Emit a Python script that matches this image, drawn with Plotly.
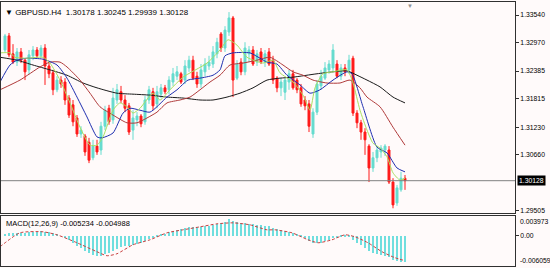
import plotly.graph_objects as go

# ---------------- data ----------------
bars = list(range(101))

opens = [1.3282, 1.3311, 1.3274, 1.3257, 1.3278, 1.3261, 1.3241, 1.3270, 1.3282, 1.3270,
         1.3286, 1.3249, 1.3235, 1.3200, 1.3220, 1.3216, 1.3183, 1.3169, 1.3142, 1.3109,
         1.3105, 1.3092, 1.3060, 1.3084, 1.3076, 1.3125, 1.3162, 1.3138, 1.3179, 1.3196,
         1.3179, 1.3167, 1.3117, 1.3138, 1.3146, 1.3134, 1.3179, 1.3196, 1.3171, 1.3191,
         1.3204, 1.3200, 1.3216, 1.3228, 1.3233, 1.3220, 1.3245, 1.3261, 1.3228, 1.3212,
         1.3237, 1.3249, 1.3253, 1.3274, 1.3315, 1.3286, 1.3319, 1.3348, 1.3224, 1.3257,
         1.3237, 1.3274, 1.3282, 1.3257, 1.3278, 1.3257, 1.3278, 1.3261, 1.3224, 1.3204,
         1.3195, 1.3216, 1.3233, 1.3220, 1.3204, 1.3179, 1.3171, 1.3109, 1.3154, 1.3208,
         1.3224, 1.3241, 1.3245, 1.3253, 1.3228, 1.3245, 1.3241, 1.3265, 1.3152, 1.3132,
         1.3113, 1.3084, 1.3039, 1.3060, 1.3072, 1.3076, 1.3076, 1.3010, 1.2967, 1.2994,
         1.30178]
closes = [1.3311, 1.3272, 1.3257, 1.3278, 1.3261, 1.3237, 1.3272, 1.3282, 1.3270, 1.3286,
          1.3249, 1.3233, 1.3200, 1.3220, 1.3212, 1.3179, 1.3148, 1.3134, 1.3109, 1.3117,
          1.3072, 1.3055, 1.3084, 1.3072, 1.3125, 1.3158, 1.3134, 1.3183, 1.3200, 1.3179,
          1.3162, 1.3113, 1.3142, 1.3146, 1.3130, 1.3179, 1.3200, 1.3167, 1.3196, 1.3204,
          1.3196, 1.3220, 1.3233, 1.3237, 1.3216, 1.3249, 1.3261, 1.3224, 1.3212, 1.3241,
          1.3253, 1.3257, 1.3278, 1.3298, 1.3286, 1.3323, 1.3348, 1.3220, 1.3253, 1.3237,
          1.3286, 1.3282, 1.3253, 1.3274, 1.3257, 1.3274, 1.3253, 1.3220, 1.3204, 1.3216,
          1.3220, 1.3233, 1.3204, 1.3200, 1.3171, 1.3167, 1.3125, 1.3154, 1.3212, 1.3228,
          1.3245, 1.3253, 1.3282, 1.3228, 1.3245, 1.3237, 1.3261, 1.3152, 1.3132, 1.3113,
          1.3097, 1.3039, 1.3060, 1.3076, 1.3080, 1.3084, 1.3010, 1.2963, 1.2998, 1.3018,
          1.30128]
highs = [1.3315, 1.3317, 1.3294, 1.3286, 1.3286, 1.3265, 1.3282, 1.3290, 1.3288, 1.3292,
         1.3294, 1.3257, 1.3241, 1.3228, 1.3228, 1.3224, 1.3189, 1.3179, 1.3148, 1.3125,
         1.3109, 1.3101, 1.3097, 1.3097, 1.3134, 1.3167, 1.3169, 1.3204, 1.3212, 1.3208,
         1.3189, 1.3173, 1.3158, 1.3154, 1.3150, 1.3187, 1.3208, 1.3204, 1.3208, 1.3212,
         1.3210, 1.3228, 1.3245, 1.3249, 1.3237, 1.3261, 1.3270, 1.3270, 1.3237, 1.3253,
         1.3265, 1.3270, 1.3290, 1.3307, 1.3319, 1.3331, 1.3360, 1.3352, 1.3261, 1.3265,
         1.3298, 1.3290, 1.3290, 1.3282, 1.3286, 1.3282, 1.3286, 1.3270, 1.3228, 1.3224,
         1.3224, 1.3241, 1.3241, 1.3224, 1.3212, 1.3187, 1.3179, 1.3162, 1.3220, 1.3241,
         1.3257, 1.3261, 1.3294, 1.3261, 1.3253, 1.3253, 1.3272, 1.3270, 1.3158, 1.3138,
         1.3121, 1.3088, 1.3072, 1.3084, 1.3086, 1.3088, 1.3084, 1.3018, 1.3004, 1.3031,
         1.30245]
lows = [1.3278, 1.3267, 1.3253, 1.3249, 1.3255, 1.3220, 1.3232, 1.3261, 1.3265, 1.3265,
        1.3210, 1.3224, 1.3189, 1.3195, 1.3204, 1.3169, 1.3142, 1.3125, 1.3103, 1.3101,
        1.3064, 1.3049, 1.3055, 1.3066, 1.3066, 1.3117, 1.3128, 1.3130, 1.3171, 1.3173,
        1.3154, 1.3107, 1.3097, 1.3125, 1.3123, 1.3128, 1.3171, 1.3158, 1.3162, 1.3183,
        1.3191, 1.3191, 1.3208, 1.3220, 1.3212, 1.3212, 1.3237, 1.3220, 1.3204, 1.3204,
        1.3228, 1.3241, 1.3245, 1.3265, 1.3278, 1.3278, 1.3311, 1.3185, 1.3220, 1.3230,
        1.3230, 1.3257, 1.3249, 1.3249, 1.3253, 1.3247, 1.3249, 1.3212, 1.3195, 1.3187,
        1.3179, 1.3200, 1.3200, 1.3193, 1.3165, 1.3158, 1.3113, 1.3101, 1.3148, 1.3200,
        1.3220, 1.3233, 1.3237, 1.3224, 1.3220, 1.3228, 1.3233, 1.3146, 1.3121, 1.3097,
        1.3066, 1.3010, 1.3031, 1.3051, 1.3060, 1.3064, 1.3006, 1.2956, 1.2961, 1.2990,
        1.29939]

# moving averages (bar position, price)
ma_fast_x = [-1.25, 1.25, 2.5, 5.5, 9.5, 11.25, 13.75, 16.25, 18.75, 21.25, 23, 24.5, 27, 28.75,
             30.5, 32, 33.75, 37, 38.75, 41.25, 44.5, 50.5, 53.75, 55.75, 58, 60.5, 64.5, 67,
             68.75, 72, 74.5, 76.25, 77.5, 79.5, 82, 85.5, 87, 88.75, 90.5, 92, 93.75, 95.5,
             97, 98.75, 100]
ma_fast_y = [1.3276, 1.3276, 1.3267, 1.3265, 1.3267, 1.3255, 1.3220, 1.3173, 1.3123, 1.3086,
             1.3086, 1.3103, 1.3158, 1.3173, 1.3165, 1.3152, 1.3162, 1.3193, 1.3179, 1.3200,
             1.3226, 1.3255, 1.3282, 1.3303, 1.3292, 1.3267, 1.3255, 1.3261, 1.3235, 1.3216,
             1.3189, 1.3158, 1.3204, 1.3233, 1.3237, 1.3241, 1.3214, 1.3158, 1.3117, 1.3090,
             1.3080, 1.3062, 1.3029, 1.3014, 1.3018]

ma_blue_x = [-1.25, 1.25, 3, 5.5, 9.5, 13, 15.5, 18, 20.5, 23, 24.25, 27, 29.5, 31.25, 33.75,
             36.25, 40.5, 43, 45.75, 48.75, 52, 53.75, 55, 57, 61.25, 63.75, 65.5, 68, 70.5,
             73.75, 76.25, 78.75, 82, 85.5, 86.75, 89.5, 93, 95.5, 98, 100]
ma_blue_y = [1.3216, 1.3251, 1.3261, 1.3265, 1.3263, 1.3251, 1.3224, 1.3185, 1.3144, 1.3103,
             1.3101, 1.3111, 1.3152, 1.3162, 1.3158, 1.3154, 1.3185, 1.3200, 1.3220, 1.3224,
             1.3230, 1.3241, 1.3270, 1.3276, 1.3276, 1.3265, 1.3257, 1.3253, 1.3230, 1.3210,
             1.3193, 1.3200, 1.3220, 1.3237, 1.3233, 1.3165, 1.3082, 1.3070, 1.3039, 1.3031]

ma_brown_x = [-1.25, 3.75, 8.75, 11.25, 13.75, 15.5, 18.75, 21.25, 23.75, 27, 30.5, 33, 35.5,
              38, 40.5, 43.75, 46.25, 48.75, 51.25, 53.75, 56.25, 59.5, 63, 66.25, 69.5, 72,
              74.5, 77, 80.5, 83.75, 86.25, 88.75, 90.5, 93.75, 97, 100]
ma_brown_y = [1.3200, 1.3220, 1.3247, 1.3257, 1.3257, 1.3247, 1.3220, 1.3193, 1.3165, 1.3148,
              1.3132, 1.3132, 1.3142, 1.3154, 1.3173, 1.3179, 1.3185, 1.3200, 1.3216, 1.3230,
              1.3251, 1.3255, 1.3261, 1.3267, 1.3251, 1.3237, 1.3230, 1.3220, 1.3214, 1.3214,
              1.3220, 1.3204, 1.3185, 1.3165, 1.3123, 1.3086]

ma_black_x = [-1.25, 3, 7, 11.25, 15.5, 19.5, 23, 28, 32, 36.25, 40.5, 44.5, 48.75, 52, 55.5,
              58.75, 62, 65.5, 68.75, 72, 78, 82, 85.5, 88, 90.5, 93.75, 97, 100]
ma_black_y = [1.3267, 1.3261, 1.3251, 1.3241, 1.3230, 1.3214, 1.3204, 1.3193, 1.3191, 1.3189,
              1.3185, 1.3183, 1.3179, 1.3179, 1.3185, 1.3193, 1.3204, 1.3220, 1.3224, 1.3226,
              1.3233, 1.3237, 1.3239, 1.3230, 1.3220, 1.3206, 1.3185, 1.3173]

# MACD histogram (main line) per bar
macd_main = [0.0004, 0.0005, 0.0005, 0.0006, 0.0006, 0.0006, 0.0007, 0.0008, 0.0008, 0.0009,
             0.0008, 0.0007, 0.0005, 0.0003, 0.0000, -0.0004, -0.0009, -0.0014, -0.0020, -0.0025,
             -0.0030, -0.0035, -0.0038, -0.0041, -0.0040, -0.0036, -0.0034, -0.0030, -0.0026, -0.0023,
             -0.0021, -0.0021, -0.0019, -0.0016, -0.0014, -0.0010, -0.0006, -0.0004, -0.0001, 0.0002,
             0.0004, 0.0007, 0.0010, 0.0012, 0.0013, 0.0015, 0.0017, 0.0017, 0.0017, 0.0018,
             0.0019, 0.0020, 0.0022, 0.0024, 0.0025, 0.0028, 0.0033, 0.0030, 0.0028, 0.0026,
             0.0025, 0.0024, 0.0023, 0.0022, 0.0021, 0.0020, 0.0019, 0.0016, 0.0013, 0.0011,
             0.0009, 0.0008, 0.0006, 0.0003, -0.0001, -0.0005, -0.0010, -0.0014, -0.0015, -0.0014,
             -0.0011, -0.0008, -0.0005, -0.0004, -0.0003, -0.0003, -0.0002, -0.0008, -0.0014, -0.0019,
             -0.0024, -0.0031, -0.0034, -0.0036, -0.0038, -0.0040, -0.0043, -0.0048, -0.0050, -0.0052,
             -0.005234]
signal_x = [-1.25, 3.75, 9.5, 13, 18, 23, 25.5, 28, 32, 36.25, 40.5, 44.5, 48.75, 53, 57, 61.25,
            65.5, 67.5, 71.75, 75.75, 78.25, 81.75, 85, 87.5, 90.75, 94.25, 97.5, 100]
signal_y = [-0.0022, 0.0006, 0.0008, 0.0002, -0.0014, -0.0032, -0.0040, -0.0036, -0.0018, -0.0008,
            0.0006, 0.0012, 0.0018, 0.0024, 0.0026, 0.0022, 0.0012, 0.0012, 0.0006, -0.0008,
            -0.0014, -0.0008, 0.0002, -0.0002, -0.0014, -0.0032, -0.0044, -0.004988]

price_ticks = [1.29505, 1.30660, 1.31230, 1.31815, 1.32385, 1.32970, 1.33540]
last_price = 1.30128
macd_max, macd_min = 0.003973, -0.006059

# ---------------- styles ----------------
BG = "#fffafa"
UP = "#66dccf"
DOWN = "#ff1a1a"
AX = "#303030"
FONT = "Liberation Sans"

fig = go.Figure()
fig.add_trace(go.Candlestick(
    x=bars, open=opens, high=highs, low=lows, close=closes,
    increasing=dict(line=dict(color=UP, width=1), fillcolor=UP),
    decreasing=dict(line=dict(color=DOWN, width=1), fillcolor=DOWN),
    whiskerwidth=0, showlegend=False, xaxis="x", yaxis="y", hoverinfo="skip"))

for xs, ys, col in [(ma_black_x, ma_black_y, "#1a1a1a"),
                    (ma_brown_x, ma_brown_y, "#b03a3a"),
                    (ma_blue_x, ma_blue_y, "#1f2fb0"),
                    (ma_fast_x, ma_fast_y, "#a8e060")]:
    fig.add_trace(go.Scatter(x=xs, y=ys, mode="lines", xaxis="x", yaxis="y",
                             line=dict(color=col, width=1, shape="spline", smoothing=0.6),
                             showlegend=False, hoverinfo="skip"))

fig.add_trace(go.Bar(x=bars, y=macd_main, width=0.3, marker=dict(color="#70dede", line=dict(width=0)),
                     xaxis="x2", yaxis="y2", showlegend=False, hoverinfo="skip"))
fig.add_trace(go.Scatter(x=signal_x, y=signal_y, mode="lines", xaxis="x2", yaxis="y2",
                         line=dict(color="#c84040", width=1, dash="3px,2px", shape="spline", smoothing=0.6),
                         showlegend=False, hoverinfo="skip"))

xcommon = dict(range=[-1, 127.5], showticklabels=False, ticks="", showgrid=False, zeroline=False,
               showline=True, mirror=True, linecolor=AX, linewidth=1, fixedrange=True)
fig.update_layout(
    width=550, height=268,
    margin=dict(l=1, r=35, t=2, b=2),
    paper_bgcolor=BG, plot_bgcolor=BG,
    font=dict(family=FONT, size=7, color="#000000"),
    xaxis=dict(**xcommon, anchor="y", rangeslider=dict(visible=False)),
    xaxis2=dict(**xcommon, anchor="y2", matches="x"),
    yaxis=dict(domain=[0.2008, 1.0], range=[1.29463, 1.33808], side="right",
               tickvals=price_ticks, ticktext=[f"{v:.5f}" for v in price_ticks],
               ticks="outside", ticklen=3, tickcolor=AX, tickfont=dict(size=6.8, family=FONT),
               showgrid=False, zeroline=False, showline=True, mirror=True, linecolor=AX, anchor="x"),
    yaxis2=dict(domain=[0.0, 0.1894], range=[macd_min, macd_max], side="right",
                tickvals=[0], ticktext=["0.00"],
                ticks="outside", ticklen=3, tickcolor=AX, tickfont=dict(size=6.8, family=FONT),
                showgrid=False, zeroline=False, showline=True, mirror=True, linecolor=AX, anchor="x2"),
    bargap=0,
)

# last price line and label
fig.add_shape(type="line", xref="x domain", x0=0, x1=1, yref="y", y0=last_price, y1=last_price,
              line=dict(color="#808080", width=1))
fig.add_annotation(xref="paper", x=1.0, xanchor="left", xshift=2, yref="y", y=last_price,
                   text=f"{last_price:.5f}", showarrow=False, bgcolor="#000000",
                   font=dict(color="#ffffff", size=6.8, family=FONT), borderpad=1)

# MACD panel extreme labels
fig.add_annotation(xref="paper", x=1.0, xanchor="left", xshift=3, yref="y2 domain", y=1, yanchor="top",
                   text=f"{macd_max:.6f}", showarrow=False, font=dict(size=6.8, family=FONT))
fig.add_annotation(xref="paper", x=1.0, xanchor="left", xshift=3, yref="y2 domain", y=0, yanchor="bottom",
                   text=f"{macd_min:.6f}", showarrow=False, font=dict(size=6.8, family=FONT))

# titles
fig.add_annotation(xref="x domain", x=0, xanchor="left", xshift=2, yref="y domain", y=1, yanchor="top", yshift=-4,
                   text="\u25bc GBPUSD.H4\u00a0\u00a01.30178 1.30245 1.29939 1.30128", showarrow=False,
                   font=dict(size=8, family=FONT, color="#000000"))
fig.add_annotation(xref="x2 domain", x=0, xanchor="left", xshift=3, yref="y2 domain", y=1, yanchor="top", yshift=-1,
                   text="MACD(12,26,9) -0.005234 -0.004988", showarrow=False,
                   font=dict(size=7.5, family=FONT, color="#000000"))
# chart shift marker
fig.add_annotation(xref="x", x=101.3, yref="y domain", y=1, yanchor="top", yshift=1,
                   text="\u25bc", showarrow=False, font=dict(size=6, color="#909090"))

fig.write_html("out.html")
